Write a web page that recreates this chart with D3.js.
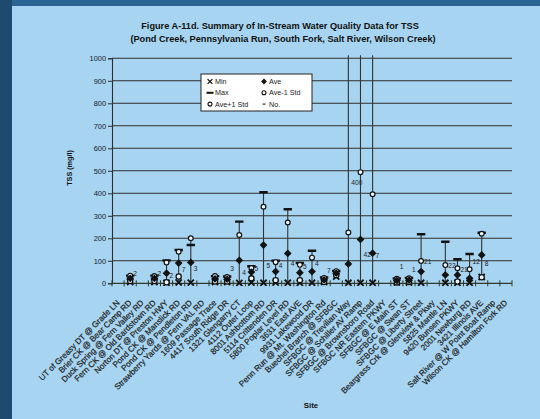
<!DOCTYPE html>
<html>
<head>
<meta charset="utf-8">
<script src="https://cdn.jsdelivr.net/npm/d3@7"></script>
<style>
  html, body { margin: 0; padding: 0; background: #a7d4f0; }
  svg { display: block; font-family: "Liberation Sans", Arial, sans-serif; }
</style>
</head>
<body>
<svg id="chart" width="540" height="419"></svg>
<script>
// Sampling sites (category axis)
const sites = [
  "UT of Greasy DT @ Grade LN",
  "Brier CK @ Bear Camp RD",
  "Duck Spring @ Fern Valley RD",
  "Fern CK @ Old Bardstown RD",
  "Norton DT @ Preston HWY",
  "Pond CK @ Manslick RD",
  "Pond CK @ Pendleton RD",
  "Strawberry Yards @ Fern VAL RD",
  "1609 Passage Trace",
  "4417 South Ridge DR",
  "1321 Glengarry CT",
  "4112 Outer Loop",
  "8001 Ashbottom RD",
  "5114 Crittenden DR",
  "5800 Poplar Level RD",
  "3631 East AVE",
  "9931 Lakewood DR",
  "Penn Run @ Mt. Washington Rd",
  "Buechel Branch @ SFBGC",
  "SFBGC @ Trevilian Way",
  "SFBGC @ Schiller AV Ramp",
  "SFBGC @ Brownsboro Road",
  "SFBGC NR Eastern PKWY",
  "SFBGC @ E Main ST",
  "SFBGC @ Swan ST",
  "SFBGC @ Liberty Street",
  "Beargrass Crk @ Glenview & Pkwy",
  "5825 Mantle LN",
  "9420 Bunsen PKWY",
  "2001 Newburg RD",
  "3421 Illinois AVE",
  "Salt River @ W Point Boat Ramp",
  "Wilson CK @ Hamilton Fork RD"
];

// TSS summary statistics per site (mg/l); null = not sampled / not plotted
const minTSS   = [null, 6, null, 6, 2, 4, 3, null, 6, 6, 1, 3, 2, 3, 2, 2, 2, 6, 30, 2, 2, 2, null, 4, 4, 2, null, 2, 2, 2, 28, null, null];
const maxTSS   = [null, 34, null, 34, 102, 148, 170, null, 32, 30, 274, 76, 405, 100, 329, 90, 145, 26, 55, 1200, 1200, 1200, null, 22, 24, 218, null, 185, 107, 130, 225, null, null];
const aveTSS   = [null, 22, null, 22, 45, 90, 93, null, 20, 18, 102, 50, 170, 52, 133, 47, 52, 15, 45, 86, 195, 134, null, 12, 14, 52, null, 37, 37, 22, 126, null, null];
const aveMinus = [null, 10, null, 10, 5, 30, null, null, 8, 8, null, 22, null, 14, null, 14, null, 6, 36, null, null, null, null, 4, 6, null, null, null, 8, null, 27, null, null];
const avePlus  = [null, 34, null, 32, 92, 140, 200, null, 32, 28, 215, 68, 340, 94, 270, 82, 114, 24, 54, 226, 494, 396, null, 20, 22, 99, null, 81, 67, 62, 220, null, null];
const sampleN  = [null, "2", null, "2", "2", "7", "3", null, null, "3", "4", "5", "5", "4", "4", "5", "4", "7", null, "400", "42", "7", null, "1", "1", "21", null, "22", "21", "12", "8", null, null];
// height (mg/l) at which each sample-count label sits
const nLabelAt = [null, 45, null, 45, 35, 60, 68, null, null, 68, 50, 68, 81, 81, 90, 73, 90, 59, null, 450, 130, 125, null, 73, 63, 95, null, 81, 63, 95, 90, null, null];

const yTicks = [0, 100, 200, 300, 400, 500, 600, 700, 800, 900, 1000];

const W = 540, H = 419;
const plot = { left: 112, right: 512, top: 58.3, bottom: 283.3 };

const svg = d3.select("#chart");

// page background: dark frame strips over light blue
svg.append("rect").attr("x", 0).attr("y", 0).attr("width", W).attr("height", H).attr("fill", "#a7d4f0");
svg.append("rect").attr("x", 0).attr("y", 0).attr("width", W).attr("height", 6).attr("fill", "#2a6596");
svg.append("rect").attr("x", 0).attr("y", 0).attr("width", 12).attr("height", H).attr("fill", "#1d4a6e");

const x = d3.scaleBand().domain(sites).range([plot.left, plot.right]).paddingInner(0).paddingOuter(0);
const cx = s => x(s) + x.bandwidth() / 2;
const y = d3.scaleLinear().domain([0, 1000]).range([plot.bottom, plot.top]);

// titles
const title = svg.append("g").attr("font-weight", "bold").attr("font-size", 9.2).attr("fill", "#111").attr("text-anchor", "middle");
title.append("text").attr("x", 280).attr("y", 28.5).text("Figure A-11d. Summary of In-Stream Water Quality Data for TSS");
title.append("text").attr("x", 283).attr("y", 41.5).text("(Pond Creek, Pennsylvania Run, South Fork, Salt River, Wilson Creek)");

// horizontal gridlines
svg.append("g")
  .selectAll("line")
  .data(yTicks.filter(v => v > 0))
  .join("line")
  .attr("x1", plot.left).attr("x2", plot.right)
  .attr("y1", d => y(d)).attr("y2", d => y(d))
  .attr("stroke", "#2e2e2e").attr("stroke-width", 1.1);

// y axis
const yAxis = svg.append("g")
  .attr("transform", `translate(${plot.left},0)`)
  .call(d3.axisLeft(y).tickValues(yTicks).tickSize(4).tickPadding(2).tickFormat(d3.format("d")));
yAxis.select(".domain").attr("stroke", "#2e2e2e").attr("stroke-width", 1.1);
yAxis.selectAll(".tick line").attr("stroke", "#2e2e2e");
yAxis.selectAll("text").attr("font-size", 7.4).attr("fill", "#1a1a1a").attr("font-family", "Liberation Sans, Arial, sans-serif");

// x axis with tick marks between categories
const xAxisG = svg.append("g").attr("transform", `translate(0,${plot.bottom})`);
xAxisG.append("line").attr("x1", plot.left).attr("x2", plot.right).attr("y1", 0).attr("y2", 0)
  .attr("stroke", "#2e3a2a").attr("stroke-width", 1.2);
xAxisG.selectAll("line.tk")
  .data(sites.concat(["__end"]))
  .join("line").attr("class", "tk")
  .attr("x1", (d, i) => i < sites.length ? x(d) : plot.right)
  .attr("x2", (d, i) => i < sites.length ? x(d) : plot.right)
  .attr("y1", -3).attr("y2", 3)
  .attr("stroke", "#2e3a2a").attr("stroke-width", 1);

// category labels rotated 45 degrees
xAxisG.selectAll("text.site")
  .data(sites)
  .join("text").attr("class", "site")
  .attr("transform", d => `translate(${cx(d) + 2},${20}) rotate(-45)`)
  .attr("text-anchor", "end")
  .attr("font-size", 8.2)
  .attr("fill", "#1c1c1c")
  .attr("stroke", "#1c1c1c").attr("stroke-width", 0.2)
  .text(d => d);

// axis titles
svg.append("text")
  .attr("transform", `translate(72,168) rotate(-90)`)
  .attr("text-anchor", "middle").attr("font-weight", "bold").attr("font-size", 7.2).attr("fill", "#111")
  .text("TSS (mg/l)");
svg.append("text")
  .attr("x", 311).attr("y", 407.5)
  .attr("text-anchor", "middle").attr("font-weight", "bold").attr("font-size", 7.8).attr("fill", "#111")
  .text("Site");

// markers
svg.append("clipPath").attr("id", "plotClip")
  .append("rect").attr("x", plot.left).attr("y", plot.top - 3).attr("width", plot.right - plot.left).attr("height", plot.bottom - plot.top + 6);

const rows = sites.map((s, i) => ({
  site: s, min: minTSS[i], max: maxTSS[i], ave: aveTSS[i],
  lo: aveMinus[i], hi: avePlus[i], n: sampleN[i], nAt: nLabelAt[i]
}));
const active = rows.filter(r => r.ave !== null);

const marks = svg.append("g").attr("clip-path", "url(#plotClip)");
const ink = "#121212";

// high-low lines spanning every plotted statistic
marks.selectAll("line.hl")
  .data(active)
  .join("line").attr("class", "hl")
  .attr("x1", d => cx(d.site)).attr("x2", d => cx(d.site))
  .attr("y1", d => y(d3.min([d.min, d.lo, d.ave].filter(v => v !== null))))
  .attr("y2", d => y(d3.max([d.max, d.hi, d.ave].filter(v => v !== null))))
  .attr("stroke", "#333").attr("stroke-width", 1.1);

// Max: horizontal dash
marks.selectAll("line.max")
  .data(active.filter(d => d.max !== null))
  .join("line").attr("class", "max")
  .attr("x1", d => cx(d.site) - 4.2).attr("x2", d => cx(d.site) + 4.2)
  .attr("y1", d => y(d.max)).attr("y2", d => y(d.max))
  .attr("stroke", ink).attr("stroke-width", 2.4);

// Min: X marker
const xMark = 3.1;
marks.selectAll("path.min")
  .data(active.filter(d => d.min !== null))
  .join("path").attr("class", "min")
  .attr("d", d => {
    const px = cx(d.site), py = y(d.min);
    return `M${px - xMark},${py - xMark}L${px + xMark},${py + xMark}M${px - xMark},${py + xMark}L${px + xMark},${py - xMark}`;
  })
  .attr("stroke", ink).attr("stroke-width", 1.8);

// Ave-1 Std and Ave+1 Std: open circles
marks.selectAll("circle.lo")
  .data(active.filter(d => d.lo !== null))
  .join("circle").attr("class", "lo")
  .attr("cx", d => cx(d.site)).attr("cy", d => y(d.lo)).attr("r", 2.6)
  .attr("fill", "#eef7fc").attr("stroke", ink).attr("stroke-width", 1.3);
marks.selectAll("circle.hi")
  .data(active.filter(d => d.hi !== null))
  .join("circle").attr("class", "hi")
  .attr("cx", d => cx(d.site)).attr("cy", d => y(d.hi)).attr("r", 2.4)
  .attr("fill", "#eef7fc").attr("stroke", ink).attr("stroke-width", 1.2);

// Ave: filled diamond
const diamond = d3.symbol().type(d3.symbolDiamond2).size(38);
marks.selectAll("path.ave")
  .data(active)
  .join("path").attr("class", "ave")
  .attr("transform", d => `translate(${cx(d.site)},${y(d.ave)})`)
  .attr("d", diamond)
  .attr("fill", ink);

// sample counts
svg.append("g").selectAll("text")
  .data(active.filter(d => d.n !== null))
  .join("text")
  .attr("x", d => cx(d.site) + 3).attr("y", d => y(d.nAt) + 2.5)
  .attr("font-size", 6.6).attr("fill", "#222")
  .text(d => d.n);

// legend
const lg = svg.append("g").attr("transform", "translate(201,74)");
lg.append("rect").attr("width", 111).attr("height", 37).attr("fill", "#fff").attr("stroke", "#222").attr("stroke-width", 1);
const lgFont = 7.2;
const items = [
  { label: "Min", kind: "min", col: 0, row: 0 },
  { label: "Ave", kind: "ave", col: 1, row: 0 },
  { label: "Max", kind: "max", col: 0, row: 1 },
  { label: "Ave-1 Std", kind: "lo", col: 1, row: 1 },
  { label: "Ave+1 Std", kind: "hi", col: 0, row: 2 },
  { label: "No.", kind: "n", col: 1, row: 2 }
];
items.forEach(it => {
  const gx = it.col === 0 ? 9 : 63, gy = 7.5 + it.row * 11.3;
  const g = lg.append("g").attr("transform", `translate(${gx},${gy})`);
  if (it.kind === "min") {
    g.append("path").attr("d", "M-2.4,-2.4L2.4,2.4M-2.4,2.4L2.4,-2.4").attr("stroke", ink).attr("stroke-width", 1.3);
  } else if (it.kind === "max") {
    g.append("line").attr("x1", -3.5).attr("x2", 3.5).attr("stroke", ink).attr("stroke-width", 2);
  } else if (it.kind === "ave") {
    g.append("path").attr("d", d3.symbol().type(d3.symbolDiamond2).size(22)).attr("fill", ink);
  } else if (it.kind === "lo" || it.kind === "hi") {
    g.append("circle").attr("r", 2).attr("fill", "#fff").attr("stroke", ink).attr("stroke-width", 1.1);
  } else {
    g.append("line").attr("x1", -1.5).attr("x2", 1.5).attr("stroke", ink).attr("stroke-width", 1);
  }
  g.append("text").attr("x", 5).attr("y", 2.6).attr("font-size", lgFont).attr("fill", "#222").text(it.label);
});
</script>
</body>
</html>
